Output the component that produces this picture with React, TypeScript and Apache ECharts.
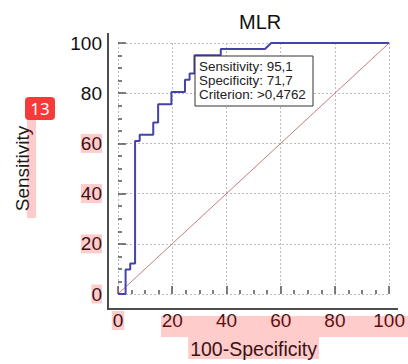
import React, { useEffect, useRef } from "react";
import * as echarts from "echarts";

const fpr = [0, 2.8, 2.8, 4.5, 4.5, 6.3, 6.3, 8.0, 8.0, 13.0, 13.0, 14.8, 14.8, 19.7, 19.7, 24.7, 24.7, 26.4, 26.4, 28.2, 28.2, 37.9, 37.9, 54.2, 56.5, 100];
const tpr = [0, 0, 9.8, 9.8, 12.2, 12.2, 61.0, 61.0, 63.4, 63.4, 68.3, 68.3, 75.6, 75.6, 80.5, 80.5, 85.4, 85.4, 87.8, 87.8, 95.1, 95.1, 97.6, 97.6, 100, 100];
const diagX = [0, 100];
const diagY = [0, 100];
const infoLines = ["Sensitivity: 95,1", "Specificity: 71,7", "Criterion: >0,4762"];
const titleText = "MLR";
const xName = "100-Specificity";
const yName = "Sensitivity";
const badgeText = "13";

const FONT = "Liberation Sans, Arial, sans-serif";
const PINK = "#ffcccc";
const HL_TEXT = "#3a1212";

export default function App() {
  const ref = useRef<HTMLDivElement>(null);
  useEffect(() => {
    if (!ref.current) return;
    const chart = echarts.init(ref.current, null, { renderer: "svg" });
    const roc = fpr.map((x, i) => [x, tpr[i]]);
    const diag = diagX.map((x, i) => [x, diagY[i]]);
    chart.setOption({
      animation: false,
      backgroundColor: "#ffffff",
      textStyle: { fontFamily: FONT },
      title: {
        text: titleText,
        left: 234,
        top: 7,
        textStyle: { fontFamily: FONT, fontSize: 20, fontWeight: "normal", color: "#111" },
      },
      grid: { left: 118, right: 15.5, top: 43, bottom: 64 },
      xAxis: {
        type: "value",
        min: 0,
        max: 100,
        interval: 20,
        offset: 9,
        name: xName,
        nameLocation: "middle",
        nameGap: 34,
        nameTextStyle: {
          fontFamily: FONT,
          fontSize: 19.5,
          color: HL_TEXT,
          backgroundColor: PINK,
          padding: [1, 2, 0, 2],
          lineHeight: 21,
        },
        axisLine: { show: false },
        axisTick: { show: true, inside: true, length: 8, lineStyle: { color: "#555", width: 1.5 } },
        minorTick: { show: true, splitNumber: 4, length: 4, lineStyle: { color: "#555", width: 1.5 } },
        splitLine: { show: true, lineStyle: { color: "#bdbdbd", width: 1, type: [2, 2] } },
        axisLabel: {
          margin: 7,
          formatter: (v: number) => (v === 0 ? `{h|${v}}` : `{n|${v}}`),
          rich: {
            h: { fontFamily: FONT, fontSize: 19, color: HL_TEXT, backgroundColor: PINK, lineHeight: 21, padding: [0, 1] },
            n: { fontFamily: FONT, fontSize: 19, color: HL_TEXT, lineHeight: 21 },
          },
        },
      },
      yAxis: {
        type: "value",
        min: 0,
        max: 100,
        interval: 20,
        offset: 10,
        name: yName,
        nameLocation: "middle",
        nameGap: 76,
        nameRotate: 90,
        nameTextStyle: { fontFamily: FONT, fontSize: 19, color: "#1a1a1a" },
        axisLine: { show: false },
        axisTick: { show: true, inside: true, length: 8, lineStyle: { color: "#555", width: 1.5 } },
        minorTick: { show: true, splitNumber: 4, length: 4, lineStyle: { color: "#555", width: 1.5 } },
        splitLine: { show: true, lineStyle: { color: "#bdbdbd", width: 1, type: [2, 2] } },
        axisLabel: {
          margin: 6,
          formatter: (v: number) => (v <= 60 ? `{h|${v}}` : `{n|${v}}`),
          rich: {
            h: { fontFamily: FONT, fontSize: 19, color: HL_TEXT, backgroundColor: PINK, lineHeight: 19 },
            n: { fontFamily: FONT, fontSize: 19, color: "#111", lineHeight: 19 },
          },
        },
      },
      series: [
        {
          type: "line",
          data: diag,
          symbol: "none",
          lineStyle: { color: "#c07c7c", width: 1 },
          z: 2,
        },
        {
          type: "line",
          data: roc,
          symbol: "none",
          lineStyle: { color: "#4343a8", width: 2 },
          z: 3,
        },
      ],
      graphic: [
        {
          type: "polyline",
          shape: { points: [[108, 33], [108, 309], [398, 309]] },
          style: { stroke: "#4d4d4d", lineWidth: 2, fill: "none" },
          z: 10,
        },
        {
          type: "rect",
          shape: { x: 161, y: 316, width: 247, height: 21 },
          style: { fill: "rgba(255,0,0,0.2)" },
          z: 20,
        },
        {
          type: "rect",
          shape: { x: 27, y: 118, width: 9, height: 100 },
          style: { fill: "rgba(255,0,0,0.2)" },
          z: 20,
        },
        {
          type: "rect",
          shape: { x: 25, y: 97, width: 30, height: 23, r: 4 },
          style: { fill: "#f53a3a" },
          z: 30,
        },
        {
          type: "text",
          x: 40,
          y: 108.5,
          style: {
            text: badgeText,
            fill: "#ffffff",
            font: "17px Noto Sans, sans-serif",
            textAlign: "center",
            textVerticalAlign: "middle",
          },
          z: 31,
        },
        {
          type: "rect",
          shape: { x: 195, y: 56, width: 118, height: 50 },
          style: { fill: "#ffffff", stroke: "#333", lineWidth: 1 },
          z: 40,
        },
        ...infoLines.map((t, i) => ({
          type: "text",
          x: 199,
          y: 66 + i * 14.2,
          style: {
            text: t,
            fill: "#222",
            font: `13.4px ${FONT}`,
            textAlign: "left",
            textVerticalAlign: "middle",
          },
          z: 41,
        })),
      ],
    });
    return () => chart.dispose();
  }, []);
  return (
    <div
      ref={ref}
      style={{ position: "fixed", left: 0, top: 0, width: 408, height: 364 }}
    />
  );
}
